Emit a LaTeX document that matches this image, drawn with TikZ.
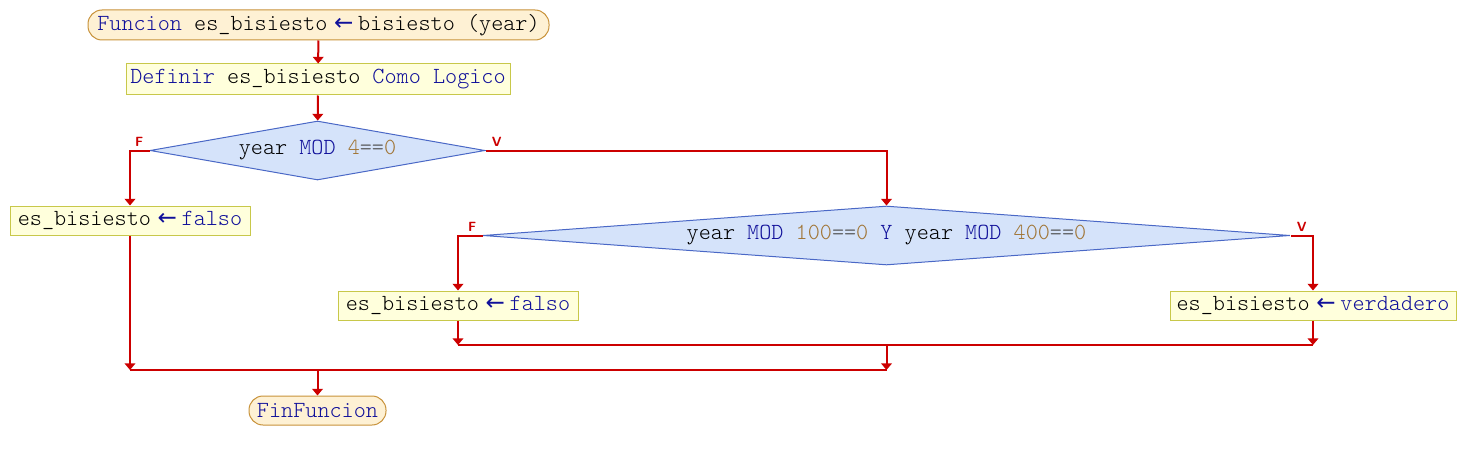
\documentclass[tikz,border=0pt]{standalone}
\usepackage{fontspec}
\newfontfamily\arrowfont{DejaVu Sans}
\usetikzlibrary{shapes.geometric,arrows.meta,positioning}

\definecolor{kwblue}{HTML}{10109A}
\definecolor{numbrown}{HTML}{A07434}
\definecolor{opgray}{HTML}{505050}
\definecolor{flowred}{HTML}{CC0000}
\definecolor{termfill}{HTML}{FEF1D4}
\definecolor{termline}{HTML}{C8923A}
\definecolor{procfill}{HTML}{FFFFDC}
\definecolor{procline}{HTML}{C8C84A}
\definecolor{condfill}{HTML}{D5E3FA}
\definecolor{condline}{HTML}{4A68C6}

\newcommand{\kw}[1]{\textcolor{kwblue}{#1}}
\newcommand{\nm}[1]{\textcolor{numbrown}{#1}}
\newcommand{\eqop}{\textcolor{opgray}{==}}
\newcommand{\asig}{\hspace{5pt}\kw{\arrowfont ←}\hspace{3.5pt}}

\begin{document}
\begin{tikzpicture}[x=0.75pt,y=-0.75pt,
	txt/.style={font=\fontsize{17.3}{20}\selectfont\ttfamily\fontseries{l}\selectfont, inner sep=0pt},
	term/.style={txt, draw=termline, fill=termfill, rounded corners=10.5pt, line width=0.75pt},
	proc/.style={txt, draw=procline, fill=procfill, line width=0.75pt},
	cond/.style={txt, diamond, draw=condline, fill=condfill, line width=0.75pt},
	flab/.style={font=\fontsize{10}{12}\selectfont\sffamily\bfseries, text=flowred, inner sep=0pt},
	flowline/.style={draw=flowred, line width=1.5pt},
	flow/.style={flowline, -{Triangle[width=8pt,length=5pt]}}]

	\useasboundingbox (0,0) rectangle (1468,460);

	% blocks
	\node[term, minimum width=345.75pt, minimum height=22.5pt] (ini) at (318.5,25)
		{\kw{Funcion} es\_bisiesto\asig bisiesto (year)};
	\node[proc, minimum width=288pt, minimum height=23.25pt] (defn) at (318,79.5)
		{\kw{Definir} es\_bisiesto \kw{Como Logico}};
	\node[cond, shape aspect=5.7, minimum width=251.25pt, minimum height=44.25pt] (cond1) at (317.5,150.5)
		{year \kw{MOD} \nm{4}\eqop\nm{0}};
	\node[proc, minimum width=180pt, minimum height=21.75pt] (falso1) at (130,220.5)
		{es\_bisiesto\asig\kw{falso}};
	\node[cond, shape aspect=13.7, minimum width=605.25pt, minimum height=44.25pt] (cond2) at (886.5,235.5)
		{year \kw{MOD} \nm{100}\eqop\nm{0} \kw{Y} year \kw{MOD} \nm{400}\eqop\nm{0}};
	\node[proc, minimum width=180pt, minimum height=21.75pt] (falso2) at (458,305.5)
		{es\_bisiesto\asig\kw{falso}};
	\node[proc, minimum width=214.5pt, minimum height=21.75pt] (verd) at (1313,305.5)
		{es\_bisiesto\asig\kw{verdadero}};
	\node[term, minimum width=102.75pt, minimum height=21.75pt] (fin) at (317.5,410.5)
		{\kw{FinFuncion}};

	% branch labels
	\node[flab, above left=3pt and 4.5pt of cond1.west] (f1) {F};
	\node[flab, above right=3pt and 4.5pt of cond1.east] (v1) {V};
	\node[flab, above left=3pt and 4.5pt of cond2.west] (f2) {F};
	\node[flab, above right=3pt and 4.5pt of cond2.east] (v2) {V};

	% joins
	\coordinate (j2) at (886.5,345);
	\coordinate (j1) at (317.5,370);

	% connectors
	\draw[flow] (ini) -- (defn);
	\draw[flow] (defn) -- (cond1);
	\draw[flow] (cond1.west) -| (falso1.north);
	\draw[flow] (cond1.east) -| (cond2.north);
	\draw[flow] (cond2.west) -| (falso2.north);
	\draw[flow] (cond2.east) -| (verd.north);
	\draw[flow] (falso2.south) -- (falso2.south |- j2);
	\draw[flow] (verd.south) -- (verd.south |- j2);
	\draw[flowline] (falso2.south |- j2) -- (verd.south |- j2);
	\draw[flow] (j2) -- (j2 |- j1);
	\draw[flow] (falso1.south) -- (falso1.south |- j1);
	\draw[flowline] (falso1.south |- j1) -- (j2 |- j1);
	\draw[flow] (j1) -- (fin);
\end{tikzpicture}
\end{document}
